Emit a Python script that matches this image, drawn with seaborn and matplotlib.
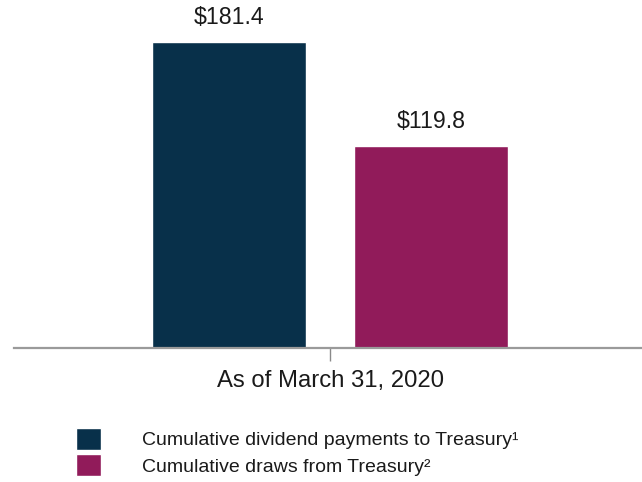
import pandas as pd
import seaborn as sns
import matplotlib.pyplot as plt

# donnees (milliards de dollars)
periods = ["As of March 31, 2020"]
series = ["Cumulative dividend payments to Treasury\u00b9",
          "Cumulative draws from Treasury\u00b2"]
values = [181.4, 119.8]
labels = ["$181.4", "$119.8"]
colors = ["#08304A", "#911B5A"]

df = pd.DataFrame({
    "period": periods * len(series),
    "series": series,
    "value": values,
})

sns.set_theme(style="white")
plt.rcParams["font.family"] = ["Liberation Sans", "DejaVu Sans"]

fig = plt.figure(figsize=(6.42, 4.82), dpi=100)
ax = fig.add_axes([14 / 642, 134 / 482, 628 / 642, 338 / 482])

sns.barplot(data=df, x="period", y="value", hue="series",
            palette=colors, width=0.8, gap=0.238, saturation=1,
            ax=ax)

for cont, lab in zip(ax.containers, labels):
    ax.bar_label(cont, labels=[lab], padding=9, fontsize=16.7, color="#1a1a1a")

ax.set_ylim(0, 200.3)
ax.set_xlim(-0.626, 0.618)
ax.set_xlabel("")
ax.set_ylabel("")
ax.set_yticks([])
for side in ["left", "top", "right"]:
    ax.spines[side].set_visible(False)
ax.spines["bottom"].set_color("#9a9a9a")
ax.spines["bottom"].set_linewidth(1.6)
ax.tick_params(axis="x", bottom=True, length=9, width=1, color="#8a8a8a",
               labelsize=17.2, labelcolor="#1a1a1a", pad=7)

# legende en bas, carres d'environ 24 px
handles, names = ax.get_legend_handles_labels()
ax.get_legend().remove()
fig.legend(handles, names, loc="upper left",
           bbox_to_anchor=(76 / 642, 1 - 428 / 482),
           frameon=False, fontsize=14, handlelength=1.3, handleheight=1.35,
           handletextpad=2.1, labelspacing=0.22, borderpad=0,
           borderaxespad=0, labelcolor="#1a1a1a")

fig.savefig("out.png", dpi=100)
